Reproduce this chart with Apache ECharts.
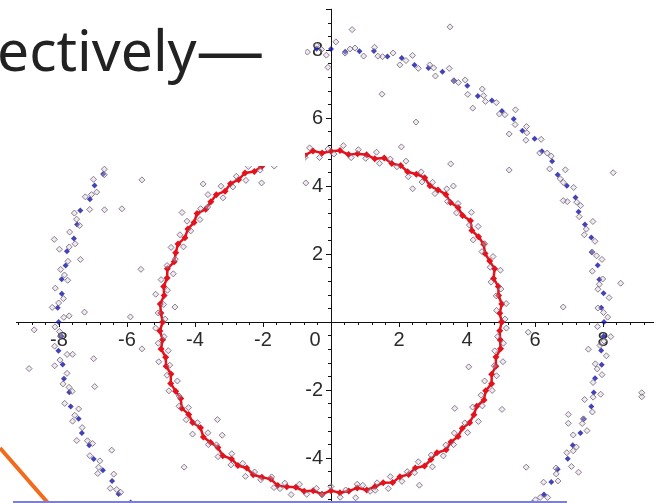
<!DOCTYPE html>
<html><head><meta charset="utf-8">
<script src="https://cdn.jsdelivr.net/npm/echarts@6/dist/echarts.min.js"></script>
<style>html,body{margin:0;padding:0;background:#fff}#c{width:654px;height:503px}</style>
</head><body><div id="c"></div>
<script>
// Axis tick values
const xTicks = [-8,-6,-4,-2,0,2,4,6,8];
const yTicks = [-4,-2,2,4,6,8];
// Red ring trace [radius, angleDeg]
const redTrace = [[5.02,0],[4.97,3],[5.05,6],[4.99,9],[5.03,12],[4.95,15],[5.06,18],[5.00,21],[4.96,24],[5.04,27],[5.01,30],[4.94,33],[5.07,36],[4.98,39],[5.03,42],[4.97,45],[5.05,48],[5.00,51],[4.95,54],[5.06,57],[5.02,60],[4.96,63],[5.04,66],[4.99,69],[5.07,72],[4.97,75],[5.03,78],[5.01,81],[4.95,84],[5.05,87],[5.02,90],[4.98,93],[5.06,96],[4.96,99],[5.03,102],[5.00,105],[4.94,108],[5.05,111],[5.01,114],[4.97,117],[5.06,120],[4.99,123],[5.03,126],[4.95,129],[5.04,132],[5.00,135],[4.96,138],[5.07,141],[4.98,144],[5.02,147],[4.96,150],[5.05,153],[5.00,156],[4.94,159],[5.06,162],[4.99,165],[5.03,168],[4.97,171],[5.05,174],[5.01,177],[4.95,180],[5.04,183],[4.98,186],[5.06,189],[4.97,192],[5.02,195],[4.95,198],[5.05,201],[5.00,204],[4.96,207],[5.07,210],[4.99,213],[5.03,216],[4.94,219],[5.05,222],[5.01,225],[4.97,228],[5.06,231],[4.98,234],[5.03,237],[4.96,240],[5.04,243],[5.00,246],[4.95,249],[5.06,252],[5.02,255],[4.97,258],[5.04,261],[4.99,264],[5.07,267],[4.96,270],[5.03,273],[5.00,276],[4.94,279],[5.05,282],[5.01,285],[4.97,288],[5.06,291],[4.98,294],[5.03,297],[4.96,300],[5.05,303],[5.00,306],[4.95,309],[5.06,312],[4.99,315],[5.03,318],[4.97,321],[5.04,324],[5.01,327],[4.95,330],[5.05,333],[4.98,336],[5.06,339],[4.97,342],[5.02,345],[4.96,348],[5.05,351],[5.00,354],[4.97,357],[5.02,360]];
// Gray points scattered around the red ring [radius, angleDeg]
const redCloud = [[5.12,1],[4.88,4],[5.18,6],[4.92,9],[5.09,11],[4.85,14],[5.21,17],[4.95,19],[5.14,22],[4.90,25],[5.07,27],[4.83,30],[5.16,33],[4.97,35],[5.24,38],[4.89,41],[5.11,43],[4.93,46],[5.19,49],[4.86,51],[5.08,54],[4.91,57],[5.15,59],[4.84,62],[5.22,65],[4.96,67],[5.10,70],[4.88,73],[5.17,75],[4.92,78],[5.13,81],[4.87,83],[5.20,86],[4.94,89],[5.09,91],[4.85,94],[5.16,97],[4.90,99],[5.12,102],[4.95,105],[5.23,107],[4.88,110],[5.07,113],[4.93,115],[5.18,118],[4.86,121],[5.11,123],[4.91,126],[5.14,129],[4.84,131],[5.21,134],[4.96,137],[5.08,139],[4.89,142],[5.17,145],[4.92,147],[5.13,150],[4.87,153],[5.19,155],[4.94,158],[5.10,161],[4.85,163],[5.15,166],[4.90,169],[5.22,171],[4.95,174],[5.09,177],[4.88,179],[5.16,182],[4.93,185],[5.12,187],[4.86,190],[5.20,193],[4.91,195],[5.07,198],[4.84,201],[5.18,203],[4.97,206],[5.11,209],[4.89,211],[5.14,214],[4.92,217],[5.24,219],[4.87,222],[5.10,225],[4.94,227],[5.17,230],[4.85,233],[5.13,235],[4.90,238],[5.19,241],[4.95,243],[5.08,246],[4.88,249],[5.15,251],[4.93,254],[5.21,257],[4.86,259],[5.12,262],[4.91,265],[5.09,267],[4.84,270],[5.16,273],[4.96,275],[5.22,278],[4.89,281],[5.11,283],[4.92,286],[5.18,289],[4.87,291],[5.13,294],[4.94,297],[5.07,299],[4.85,302],[5.20,305],[4.90,307],[5.14,310],[4.95,313],[5.10,315],[4.88,318],[5.17,321],[4.93,323],[5.23,326],[4.86,329],[5.09,331],[4.91,334],[5.15,337],[4.84,339],[5.12,342],[4.97,345],[5.19,347],[4.89,350],[5.11,353],[4.92,355],[5.16,358]];
// Blue ring trace [radius, angleDeg]
const blueTrace = [[8.03,0],[7.96,3],[8.06,6],[7.99,9],[8.02,12],[7.94,15],[8.05,18],[8.00,21],[7.97,24],[8.07,27],[8.01,30],[7.95,33],[8.04,36],[7.98,39],[8.06,42],[7.96,45],[8.03,48],[7.99,51],[8.05,54],[7.93,57],[8.02,60],[7.97,63],[8.06,66],[8.00,69],[7.95,72],[8.04,75],[7.98,78],[8.07,81],[8.01,84],[7.96,87],[8.03,90],[8.05,93],[7.97,96],[8.02,99],[7.94,102],[8.06,105],[7.99,108],[8.03,111],[7.96,114],[8.05,117],[8.00,120],[7.95,123],[8.04,126],[7.98,129],[8.06,132],[7.97,135],[8.02,138],[7.94,141],[8.05,144],[7.99,147],[8.03,150],[7.96,153],[8.07,156],[8.00,159],[7.95,162],[8.04,165],[7.98,168],[8.02,171],[7.96,174],[8.05,177],[8.01,180],[7.94,183],[8.06,186],[7.99,189],[8.03,192],[7.97,195],[8.05,198],[7.95,201],[8.02,204],[7.98,207],[8.06,210],[8.00,213],[7.96,216],[8.04,219],[7.93,222],[8.03,225],[7.99,228],[8.07,231],[7.97,234],[8.02,237],[7.95,240],[8.05,243],[8.00,246],[7.96,249],[8.04,252],[7.98,255],[8.06,258],[7.94,261],[8.03,264],[7.99,267],[8.05,270],[7.97,273],[8.02,276],[7.95,279],[8.06,282],[8.00,285],[7.96,288],[8.04,291],[7.98,294],[8.07,297],[7.97,300],[8.03,303],[7.94,306],[8.05,309],[7.99,312],[8.02,315],[7.96,318],[8.06,321],[8.01,324],[7.95,327],[8.04,330],[7.98,333],[8.03,336],[7.96,339],[8.05,342],[8.00,345],[7.94,348],[8.06,351],[7.99,354],[8.03,357]];
// Gray points scattered around the blue ring [radius, angleDeg]
const blueCloud = [[8.14,1],[7.86,3],[8.21,5],[7.91,7],[8.09,9],[7.83,11],[8.18,13],[7.95,15],[8.12,17],[7.88,19],[8.25,21],[7.93,23],[8.10,25],[7.80,27],[8.16,29],[7.97,31],[8.22,33],[7.85,35],[8.11,37],[7.90,39],[8.19,41],[7.84,43],[8.13,45],[7.94,47],[8.27,49],[7.87,51],[8.08,53],[7.92,55],[8.17,57],[7.81,59],[8.14,61],[7.96,63],[8.23,65],[7.86,67],[8.10,69],[7.89,71],[8.20,73],[7.83,75],[8.12,77],[7.95,79],[8.18,81],[7.88,83],[8.09,85],[7.92,87],[8.24,89],[7.85,91],[8.15,93],[7.97,95],[8.11,97],[7.82,99],[8.21,101],[7.90,103],[8.13,105],[7.87,107],[8.17,109],[7.94,111],[8.26,113],[7.84,115],[8.10,117],[7.91,119],[8.19,121],[7.86,123],[8.14,125],[7.96,127],[8.22,129],[7.81,131],[8.12,133],[7.89,135],[8.18,137],[7.93,139],[8.09,141],[7.85,143],[8.24,145],[7.95,147],[8.15,149],[7.88,151],[8.11,153],[7.83,155],[8.20,157],[7.92,159],[8.13,161],[7.87,163],[8.27,165],[7.94,167],[8.10,169],[7.84,171],[8.17,173],[7.90,175],[8.21,177],[7.86,179],[8.12,181],[7.97,183],[8.16,185],[7.82,187],[8.23,189],[7.91,191],[8.09,193],[7.88,195],[8.19,197],[7.85,199],[8.14,201],[7.95,203],[8.25,205],[7.87,207],[8.11,209],[7.93,211],[8.18,213],[7.80,215],[8.13,217],[7.96,219],[8.22,221],[7.86,223],[8.10,225],[7.90,227],[8.20,229],[7.84,231],[8.15,233],[7.94,235],[8.26,237],[7.88,239],[8.12,241],[7.92,243],[8.17,245],[7.83,247],[8.09,249],[7.97,251],[8.21,253],[7.85,255],[8.14,257],[7.89,259],[8.24,261],[7.93,263],[8.11,265],[7.81,267],[8.18,269],[7.95,271],[8.13,273],[7.87,275],[8.22,277],[7.91,279],[8.10,281],[7.84,283],[8.16,285],[7.96,287],[8.27,289],[7.86,291],[8.12,293],[7.90,295],[8.19,297],[7.82,299],[8.14,301],[7.94,303],[8.23,305],[7.88,307],[8.09,309],[7.92,311],[8.17,313],[7.85,315],[8.11,317],[7.97,319],[8.20,321],[7.83,323],[8.15,325],[7.89,327],[8.25,329],[7.93,331],[8.10,333],[7.86,335],[8.18,337],[7.95,339],[8.13,341],[7.80,343],[8.21,345],[7.91,347],[8.12,349],[7.87,351],[8.16,353],[7.94,355],[8.24,357],[7.84,359]];
// Extra gray points in the blue band [radius, angleDeg]
const blueBand = [[8.02,2],[7.97,8],[8.05,14],[7.99,20],[8.04,26],[7.95,32],[8.07,38],[8.01,44],[7.96,50],[8.03,56],[7.98,62],[8.06,68],[8.00,74],[7.94,80],[8.05,86],[8.02,92],[7.97,98],[8.06,104],[7.99,110],[8.03,116],[7.96,122],[8.05,128],[8.00,134],[7.95,140],[8.04,146],[7.98,152],[8.07,158],[8.01,164],[7.96,170],[8.03,176],[7.99,182],[8.05,188],[7.94,194],[8.02,200],[7.97,206],[8.06,212],[8.00,218],[7.95,224],[8.04,230],[7.98,236],[8.06,242],[7.97,248],[8.03,254],[7.99,260],[8.05,266],[7.95,272],[8.02,278],[7.98,284],[8.06,290],[8.00,296],[7.96,302],[8.04,308],[7.93,314],[8.03,320],[7.99,326],[8.07,332],[7.97,338],[8.02,344],[7.95,350],[8.05,356]];
// Stray points [x, y]
const strayPts = [[3.5,8.68],[0.62,8.6],[1.5,6.7],[2.5,5.88],[4.17,6.29],[3.52,4.65],[-0.09,7.49],[8.3,4.39],[6.83,3.57],[2.07,5.15],[5.24,4.47],[5.24,5.53],[2.4,3.92],[3.6,4.0],[9.14,-2.08],[9.14,-2.2],[6.98,-2.72],[7.28,-4.42],[6.83,0.44],[4.05,-1.32],[5.8,-0.3],[8.52,1.14],[7.57,-0.8],[-7.25,0.29],[-7.7,0.18],[-8.73,-0.23],[-6.98,-1.08],[-7.6,-0.95],[-8.88,-1.37],[-5.9,0.15],[-5.56,-0.79],[-4.59,0.44],[-5.56,4.18],[-6.66,3.3],[-6.15,3.33],[-8.14,2.43],[-7.37,1.84],[-5.59,1.55],[-3.76,4.06],[-2.04,4.09],[-0.74,4.09],[-4.38,3.22],[-6.95,-1.9],[-6.45,-3.77],[-4.32,-4.27],[-3.34,-2.87],[-3.2,-3.33],[5.74,-4.27],[5.03,-2.57],[3.64,-2.54],[0.77,-4.77],[6.98,-2.98],[2.6,-4.8],[-1.5,-4.9],[1.3,-4.95]];

const grayItem = {color:'rgba(215,195,215,0.45)', borderColor:'#6b6172', borderWidth:1};
const toPolar = arr => arr.map(p => [p[0], p[1]]);

const chart = echarts.init(document.getElementById('c'), null, {renderer:'canvas'});
const labelFont = {fontFamily:'Liberation Sans', fontSize:20, color:'#2b2b2b'};
chart.setOption({
  animation:false,
  backgroundColor:'#fff',
  grid:{left:-9, right:-17, top:9.2, bottom:-23, containLabel:false, outerBoundsMode:'none'},
  xAxis:{type:'value', min:-10, max:10, interval:2, position:'bottom', offset:-204,
    axisLine:{onZero:false, lineStyle:{color:'#111', width:1}},
    axisTick:{show:true, length:5, lineStyle:{color:'#111'}},
    minorTick:{show:true, splitNumber:5, length:3, lineStyle:{color:'#111'}},
    splitLine:{show:false},
    axisLabel:Object.assign({margin:8, showMinLabel:false, showMaxLabel:false, hideOverlap:false,
      formatter:v => v===0 ? '{o|0}' : (xTicks.indexOf(v)>=0 ? String(v) : ''),
      rich:{o:{fontFamily:'Liberation Sans', fontSize:20, color:'#2b2b2b', padding:[0,32,0,0]}}}, labelFont)},
  yAxis:{type:'value', min:-6, max:9.2, interval:2, position:'left', offset:-340,
    axisLine:{onZero:false, lineStyle:{color:'#111', width:1}},
    axisTick:{show:true, length:5, lineStyle:{color:'#111'}},
    minorTick:{show:true, splitNumber:5, length:3, lineStyle:{color:'#111'}},
    splitLine:{show:false},
    axisLabel:Object.assign({margin:8, showMaxLabel:false, hideOverlap:false,
      formatter:v => yTicks.indexOf(v)>=0 ? String(v) : ''}, labelFont)},
  polar:{center:[331,322], radius:340},
  angleAxis:{type:'value', min:0, max:360, startAngle:0, clockwise:false, show:false},
  radiusAxis:{type:'value', min:0, max:10, show:false},
  series:[
    {type:'line', coordinateSystem:'polar', data:toPolar(redTrace), symbol:'diamond', symbolSize:7,
      lineStyle:{color:'#e3121c', width:2.5}, itemStyle:{color:'#e3121c'}, z:3},
    {type:'scatter', coordinateSystem:'polar', data:toPolar(redCloud), symbol:'diamond', symbolSize:6,
      itemStyle:grayItem, z:4},
    {type:'scatter', coordinateSystem:'polar', data:toPolar(blueTrace), symbol:'diamond', symbolSize:6,
      itemStyle:{color:'#1414a6'}, z:3},
    {type:'scatter', coordinateSystem:'polar', data:toPolar(blueCloud), symbol:'diamond', symbolSize:6,
      itemStyle:grayItem, z:4},
    {type:'scatter', coordinateSystem:'polar', data:toPolar(blueBand), symbol:'diamond', symbolSize:6,
      itemStyle:grayItem, z:4},
    {type:'scatter', data:strayPts, symbol:'diamond', symbolSize:6, itemStyle:grayItem, z:4}
  ],
  graphic:[
    {type:'rect', shape:{x:0,y:0,width:305,height:166}, style:{fill:'#fff'}, z:100},
    {type:'rect', shape:{x:0,y:316,width:16,height:12}, style:{fill:'#fff'}, z:100},
    {type:'text', x:-3, y:55, style:{text:'ectively', font:'57px "Noto Sans"', fill:'#222', verticalAlign:'middle'}, z:101},
    {type:'text', x:196, y:55, scaleX:1.2, style:{text:'\u2014', font:'57px "Noto Sans"', fill:'#222', verticalAlign:'middle'}, z:101},
    {type:'line', shape:{x1:0,y1:448,x2:48,y2:503}, style:{stroke:'#f26a1b', lineWidth:4}, z:101},
    {type:'line', shape:{x1:13,y1:502,x2:567,y2:502}, style:{stroke:'#7b7fd6', lineWidth:2}, z:101}
  ]
});
</script></body></html>
